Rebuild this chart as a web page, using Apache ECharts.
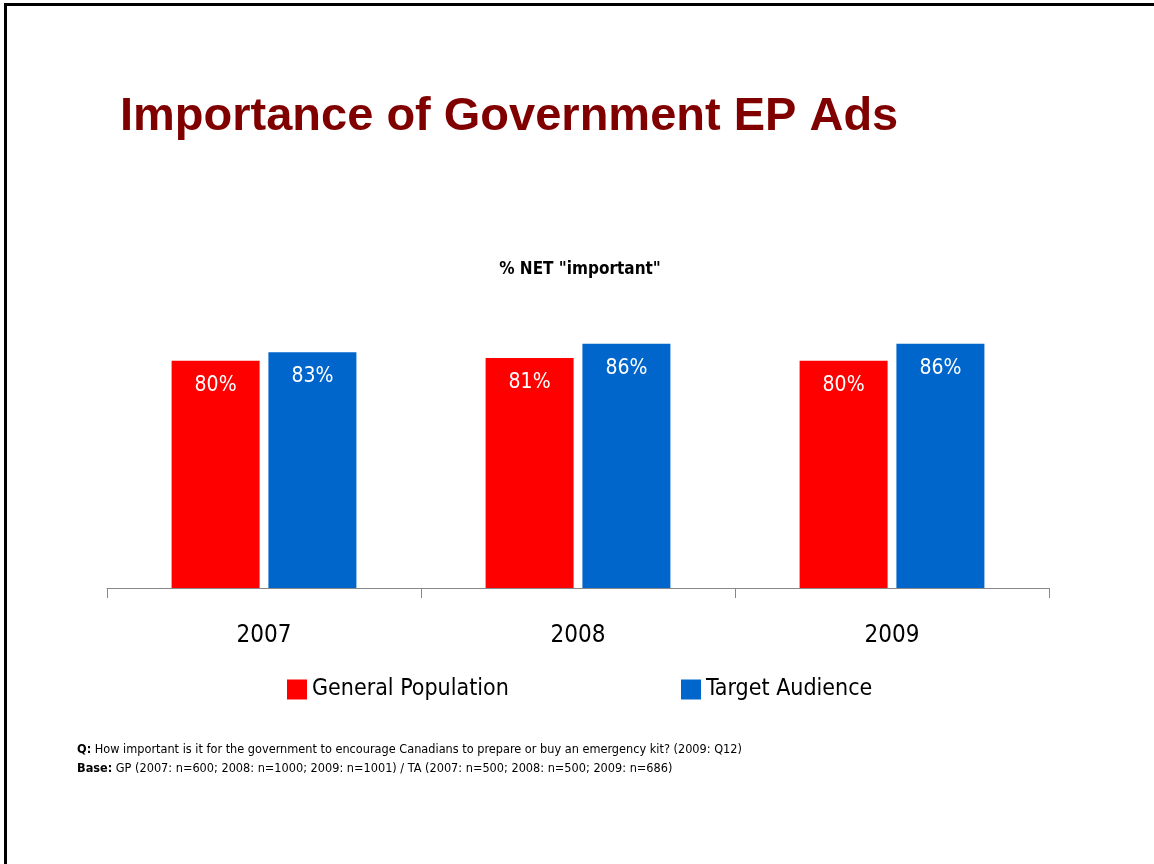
<!DOCTYPE html>
<html>
<head>
<meta charset="utf-8">
<title>Importance of Government EP Ads</title>
<script src="https://cdn.jsdelivr.net/npm/echarts@6/dist/echarts.min.js"></script>
<style>
  html, body { margin: 0; padding: 0; background: #ffffff; }
  #chart { width: 1154px; height: 864px; }
</style>
</head>
<body>
<div id="chart"></div>
<script>
// Survey years and the share answering "important" for each audience
const years = ['2007', '2008', '2009'];
const generalPopulation = [80, 81, 80];
const targetAudience = [83, 86, 86];
const seriesNames = ['General Population', 'Target Audience'];

const NARROW = "'DejaVu Sans Condensed', 'Liberation Sans Narrow', 'Arial Narrow', sans-serif";
const WIDE = "'Liberation Sans', Arial, sans-serif";

const chart = echarts.init(document.getElementById('chart'), null, { renderer: 'canvas' });

const labelStyle = {
  show: true,
  position: 'insideTop',
  distance: 14,
  color: '#ffffff',
  fontFamily: NARROW,
  fontSize: 21,
  formatter: p => p.value + '%'
};

const legendText = { color: '#000000', fontFamily: NARROW, fontSize: 23 };

chart.setOption({
  backgroundColor: '#ffffff',
  animation: false,
  title: [
    {
      text: 'Importance of Government EP Ads',
      left: 120,
      top: 94,
      padding: 0,
      textStyle: { color: '#800000', fontFamily: WIDE, fontWeight: 'bold', fontSize: 47 }
    },
    {
      text: '% NET "important"',
      left: 580,
      top: 261,
      padding: 0,
      textAlign: 'center',
      textStyle: { color: '#000000', fontFamily: NARROW, fontWeight: 'bold', fontSize: 17 }
    }
  ],
  legend: [
    {
      data: [seriesNames[0]],
      left: 287, top: 678, padding: 0,
      icon: 'rect', itemWidth: 20, itemHeight: 20, itemGap: 6,
      textStyle: legendText
    },
    {
      data: [seriesNames[1]],
      left: 681, top: 678, padding: 0,
      icon: 'rect', itemWidth: 20, itemHeight: 20, itemGap: 6,
      textStyle: legendText
    }
  ],
  grid: { left: 107, right: 105, top: 304, bottom: 276, containLabel: false },
  xAxis: {
    type: 'category',
    data: years,
    axisLine: { lineStyle: { color: '#888888', width: 1 } },
    axisTick: { show: true, length: 10, lineStyle: { color: '#888888' } },
    axisLabel: { color: '#000000', fontFamily: NARROW, fontSize: 24, margin: 36 }
  },
  yAxis: {
    type: 'value',
    min: 0, max: 100,
    show: false,
    splitLine: { show: false }
  },
  series: [
    {
      name: seriesNames[0],
      type: 'bar',
      data: generalPopulation,
      barWidth: 88,
      barGap: '10%',
      itemStyle: { color: '#ff0000' },
      label: labelStyle
    },
    {
      name: seriesNames[1],
      type: 'bar',
      data: targetAudience,
      barWidth: 88,
      barGap: '10%',
      itemStyle: { color: '#0066cc' },
      label: labelStyle
    }
  ],
  graphic: [
    // slide frame: top and left edges
    { type: 'rect', shape: { x: 4, y: 3, width: 1150, height: 3 }, style: { fill: '#000000' } },
    { type: 'rect', shape: { x: 4, y: 3, width: 3, height: 861 }, style: { fill: '#000000' } },
    {
      type: 'text',
      left: 77, top: 740,
      style: {
        text: '{b|Q:} How important is it for the government to encourage Canadians to prepare or buy an emergency kit? (2009: Q12)\n{b|Base:} GP (2007: n=600; 2008: n=1000; 2009: n=1001) / TA (2007: n=500; 2008: n=500; 2009: n=686)',
        fill: '#000000',
        font: "12.6px " + NARROW,
        lineHeight: 19,
        rich: { b: { fontWeight: 'bold', fontFamily: NARROW, fontSize: 12.6, fill: '#000000', lineHeight: 19 } }
      }
    }
  ]
});
</script>
</body>
</html>
